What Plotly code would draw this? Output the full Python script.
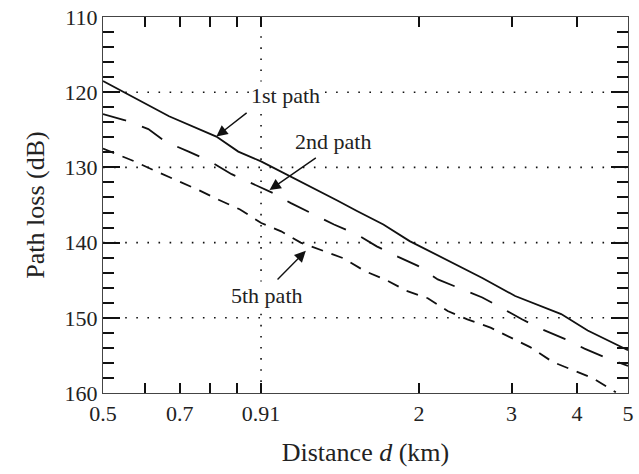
import numpy as np
import plotly.graph_objects as go

# ---- data ----
d_1st = [0.5, 0.668, 0.822, 0.905, 1.0, 1.208, 1.397, 1.523, 1.613, 1.71, 1.919, 2.218, 2.639, 3.048, 3.73, 4.19, 4.96, 5.0]
pl_1st = [118.5, 123.2, 125.9, 127.9, 129.2, 132.1, 134.4, 135.8, 136.7, 137.6, 139.8, 142.0, 144.7, 147.1, 149.5, 151.7, 154.2, 154.3]

d_2nd = [0.5, 0.549, 0.61, 0.658, 0.728, 0.80, 0.879, 0.958, 1.053, 1.14, 1.262, 1.377, 1.523, 1.661, 1.825, 1.99,
         2.171, 2.384, 2.639, 2.857, 3.14, 3.42, 3.787, 4.131, 4.57, 5.0]
pl_2nd = [122.9, 123.7, 124.9, 126.6, 127.9, 129.2, 130.9, 132.1, 133.4, 134.75, 136.3, 137.6, 138.9, 140.5, 141.9, 143.1,
          144.9, 146.0, 147.3, 148.6, 150.2, 151.5, 152.8, 154.1, 155.4, 156.4]

d_5th = [0.5, 0.549, 0.574, 0.630, 0.718, 0.760, 0.830, 0.912, 1.001, 1.092, 1.19, 1.309, 1.437, 1.578, 1.722, 1.892,
         2.078, 2.267, 2.472, 2.736, 2.984, 3.255, 3.6, 3.93, 4.28, 4.74]
pl_5th = [127.5, 128.6, 129.2, 130.5, 132.2, 133.0, 134.3, 135.6, 137.4, 138.5, 140.0, 141.1, 142.1, 143.8, 144.9, 146.4,
          147.4, 149.1, 150.2, 151.3, 152.6, 153.9, 155.9, 157.0, 158.0, 159.9]

x_tickvals = [0.5, 0.6, 0.7, 0.8, 0.9, 1.0, 2, 3, 4, 5]
x_ticktext = ["0.5", "", "0.7", "", "", "0.91", "2", "3", "4", "5"]
y_tickvals = [110, 120, 130, 140, 150, 160]
grid_x = [1.0]
grid_y = [120, 130, 140, 150]

# annotation: label, text position (d, PL), arrow head (d, PL), arrow tail (d, PL)
labels = ["1st path", "2nd path", "5th path"]
label_pos = [(1.112, 120.4), (1.372, 126.6), (1.026, 147.1)]
arrow_head = [(0.822, 125.9), (1.038, 133.0), (1.217, 141.1)]
arrow_tail = [(0.945, 122.6), (1.28, 128.6), (1.068, 145.1)]

FONT = "Liberation Serif, Times New Roman, serif"
FS = 22

fig = go.Figure()
fig.add_trace(go.Scatter(x=d_1st, y=pl_1st, mode="lines",
                         line=dict(color="#111", width=1.8, dash="solid"), showlegend=False))
fig.add_trace(go.Scatter(x=d_2nd, y=pl_2nd, mode="lines",
                         line=dict(color="#111", width=1.8, dash="24px,17px"), showlegend=False))
fig.add_trace(go.Scatter(x=d_5th, y=pl_5th, mode="lines",
                         line=dict(color="#111", width=1.8, dash="12px,9px"), showlegend=False))

# dotted grid
for gx in grid_x:
    fig.add_shape(type="line", xref="x", yref="paper", x0=gx, x1=gx, y0=0, y1=1,
                  line=dict(color="#111", width=1.6, dash="1.6px,9.5px"), layer="below")
for gy in grid_y:
    fig.add_shape(type="line", xref="paper", yref="y", x0=0, x1=1, y0=gy, y1=gy,
                  line=dict(color="#111", width=1.6, dash="1.6px,9.5px"), layer="below")

for (txt, (tx, ty)) in zip(labels, label_pos):
    fig.add_annotation(x=np.log10(tx), y=ty, xref="x", yref="y", text=txt, showarrow=False,
                       font=dict(family=FONT, size=FS, color="#222"), bgcolor="white", borderpad=1)
for (hx, hy), (tx, ty) in zip(arrow_head, arrow_tail):
    fig.add_annotation(x=np.log10(hx), y=hy, xref="x", yref="y", ax=np.log10(tx), ay=ty,
                       axref="x", ayref="y", text="", showarrow=True,
                       arrowhead=2, arrowsize=1.6, arrowwidth=1.4, arrowcolor="#111")

fig.update_layout(
    width=639, height=474,
    margin=dict(l=103, r=5, t=14, b=81),
    paper_bgcolor="white", plot_bgcolor="white",
    font=dict(family=FONT, size=FS, color="#222"),
    xaxis=dict(type="log", range=[np.log10(0.5), np.log10(5)],
               tickvals=x_tickvals, ticktext=x_ticktext,
               ticks="inside", ticklen=10, tickwidth=2, tickcolor="#111",
               showline=True, linecolor="#444", linewidth=1.3, mirror="allticks",
               showgrid=False, zeroline=False,
               title=dict(text="Distance <i>d</i> (km)", standoff=18),
               tickfont=dict(family=FONT, size=FS)),
    yaxis=dict(range=[160, 110], tickvals=y_tickvals,
               ticks="inside", ticklen=17, tickwidth=2, tickcolor="#111",
               minor=dict(dtick=2, tick0=110, ticks="inside", ticklen=11, tickwidth=2, tickcolor="#111"),
               showline=True, linecolor="#444", linewidth=1.3, mirror="allticks",
               showgrid=False, zeroline=False,
               title=dict(text="Path loss (dB)", standoff=12),
               tickfont=dict(family=FONT, size=FS)),
)

fig.write_html("out.html")
